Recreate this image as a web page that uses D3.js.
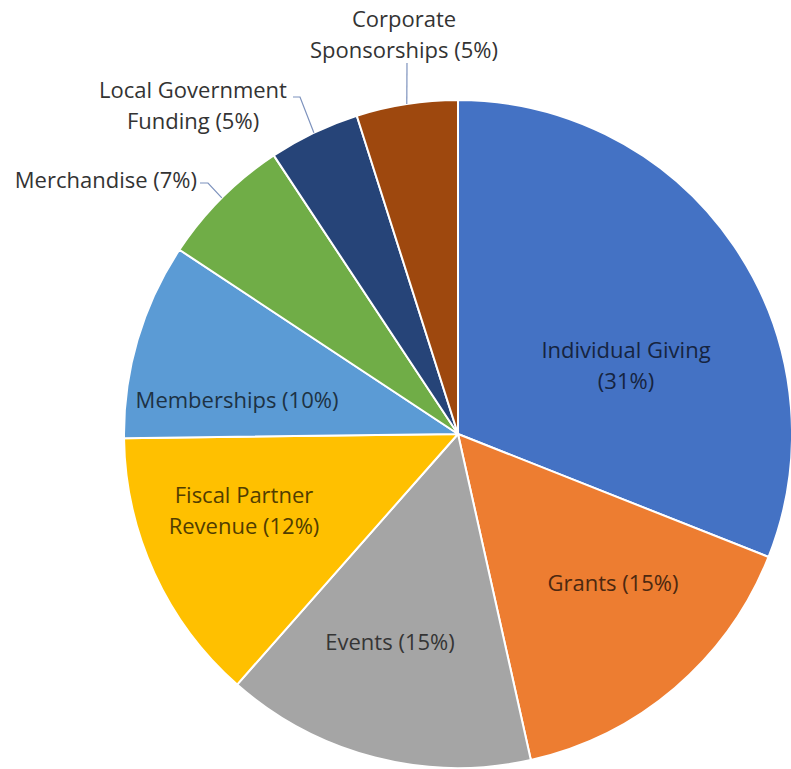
<!DOCTYPE html>
<html>
<head>
<meta charset="utf-8">
<script src="https://cdn.jsdelivr.net/npm/d3@7/dist/d3.min.js"></script>
<style>
  html, body { margin: 0; padding: 0; background: #fff; }
  svg { display: block; }
</style>
</head>
<body>
<svg id="chart" width="791" height="769"></svg>
<script>
// ---- data ----
const categories = [
  "Individual Giving", "Grants", "Events", "Fiscal Partner Revenue",
  "Memberships", "Merchandise", "Local Government Funding", "Corporate Sponsorships"
];
const values = [31.0, 15.5, 15.0, 13.3, 9.5, 6.4, 4.4, 4.9];
const labelLines = [
  ["Individual Giving", "(31%)"],
  ["Grants (15%)"],
  ["Events (15%)"],
  ["Fiscal Partner", "Revenue (12%)"],
  ["Memberships (10%)"],
  ["Merchandise (7%)"],
  ["Local Government", "Funding (5%)"],
  ["Corporate", "Sponsorships (5%)"]
];
const colors = ["#4472C4", "#ED7D31", "#A5A5A5", "#FFC000", "#5B9BD5", "#70AD47", "#264478", "#9E480E"];

// ---- layout ----
const W = 791, H = 769;
const cx = 458, cy = 434, R = 334;
const fontSize = 22, lineH = 31;
// label placement: inside labels -> offset of text centre from pie centre
// outside labels -> text anchor point plus leader elbow (relative to pie centre)
const placement = [
  { type: "in", dx: 168, dy: -68 },
  { type: "in", dx: 155, dy: 149 },
  { type: "in", dx: -68, dy: 208 },
  { type: "in", dx: -214, dy: 77 },
  { type: "in", dx: -221, dy: -34 },
  { type: "out", anchor: "end", tx: -261, ty: -254, elbow: [-250, -251], start: [-258, -251] },
  { type: "out", anchor: "middle", tx: -265, ty: -328, elbow: [-158, -337], start: [-165, -337] },
  { type: "out", anchor: "middle", tx: -54, ty: -399, elbow: [-51, -371], start: [-51, -371] }
];

const svg = d3.select("#chart");
const g = svg.append("g").attr("transform", `translate(${cx},${cy})`);

const pie = d3.pie().sort(null).value(d => d)
  .startAngle(0).endAngle(2 * Math.PI);
const arcs = pie(values);
const arc = d3.arc().innerRadius(0).outerRadius(R);

g.selectAll("path.slice")
  .data(arcs)
  .join("path")
  .attr("class", "slice")
  .attr("d", arc)
  .attr("fill", (d, i) => colors[i])
  .attr("stroke", "#fff")
  .attr("stroke-width", 2)
  .attr("stroke-linejoin", "round");

const font = "'Open Sans', 'Noto Sans', sans-serif";

arcs.forEach((a, i) => {
  const p = placement[i];
  const lines = labelLines[i];
  if (p.type === "in") {
    const txtColor = d3.color(colors[i]).darker(3.2).formatHex();
    const t = g.append("text")
      .attr("text-anchor", "middle")
      .attr("font-family", font)
      .attr("font-size", fontSize)
      .attr("fill", txtColor);
    const n = lines.length;
    lines.forEach((ln, k) => {
      t.append("tspan")
        .attr("x", p.dx)
        .attr("y", p.dy + (k - (n - 1) / 2) * lineH)
        .attr("dy", "0.35em")
        .text(ln);
    });
  } else {
    const mid = (a.startAngle + a.endAngle) / 2;
    const ex = Math.sin(mid) * R, ey = -Math.cos(mid) * R;
    const pts = [p.start, p.elbow, [ex, ey]];
    g.append("path")
      .attr("d", d3.line()(pts))
      .attr("fill", "none")
      .attr("stroke", "#7d92bd")
      .attr("stroke-width", 1.2);
    const t = g.append("text")
      .attr("text-anchor", p.anchor)
      .attr("font-family", font)
      .attr("font-size", fontSize)
      .attr("fill", "#333333");
    const n = lines.length;
    lines.forEach((ln, k) => {
      t.append("tspan")
        .attr("x", p.tx)
        .attr("y", p.ty + (k - (n - 1) / 2) * lineH)
        .attr("dy", "0.35em")
        .text(ln);
    });
  }
});
</script>
</body>
</html>
